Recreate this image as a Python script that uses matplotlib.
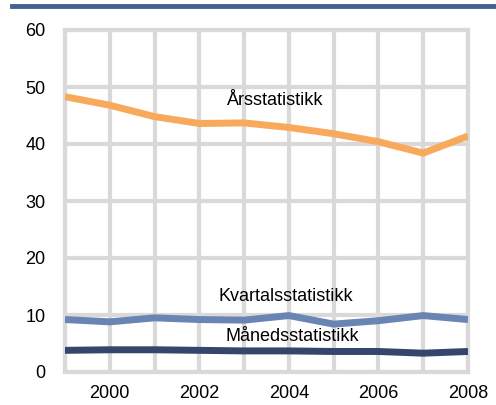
import matplotlib.pyplot as plt
from matplotlib.lines import Line2D

plt.rcParams['font.family'] = ['Liberation Sans', 'DejaVu Sans']

years = list(range(1999, 2009))
ars = [48.3, 46.8, 44.8, 43.6, 43.7, 42.9, 41.8, 40.4, 38.4, 41.4]
kvartal = [9.2, 8.8, 9.5, 9.2, 9.1, 9.9, 8.4, 9.0, 9.9, 9.2]
maned = [3.8, 3.9, 3.9, 3.8, 3.7, 3.7, 3.6, 3.6, 3.3, 3.6]

fig = plt.figure(figsize=(4.96, 4.05), dpi=100)
ax = fig.add_axes([65 / 496, 1 - 372 / 405, 403 / 496, 342 / 405])

grid_col = '#d9d9d9'
ax.plot(years, ars, color='#f8a95c', lw=5, solid_capstyle='butt', zorder=3)
ax.plot(years, kvartal, color='#6a84b3', lw=5, solid_capstyle='butt', zorder=3)
ax.plot(years, maned, color='#34466b', lw=5, solid_capstyle='butt', zorder=3)

ax.set_xlim(1999, 2008)
ax.set_ylim(0, 60)
ax.set_xticks(years, minor=True)
ax.set_xticks(range(2000, 2009, 2))
ax.set_yticks(range(0, 61, 10))
ax.grid(True, which='both', axis='x', color=grid_col, lw=3)
ax.grid(True, axis='y', color=grid_col, lw=3)
ax.tick_params(which='both', length=0, labelsize=13, colors='black')
ax.tick_params(axis='x', pad=9)
ax.tick_params(axis='y', pad=14)
for s in ax.spines.values():
    s.set_color(grid_col)
    s.set_linewidth(3)

ax.text(2003.7, 47.7, 'Årsstatistikk', fontsize=13, ha='center', va='center')
ax.text(2003.93, 13.2, 'Kvartalsstatistikk', fontsize=13, ha='center', va='center')
ax.text(2004.07, 6.2, 'Månedsstatistikk', fontsize=13, ha='center', va='center')

# top rule
fig.add_artist(Line2D([12 / 496, 1], [1 - 5.5 / 405] * 2, color='#44618f', lw=3.5))

fig.savefig('out.png', dpi=100)
